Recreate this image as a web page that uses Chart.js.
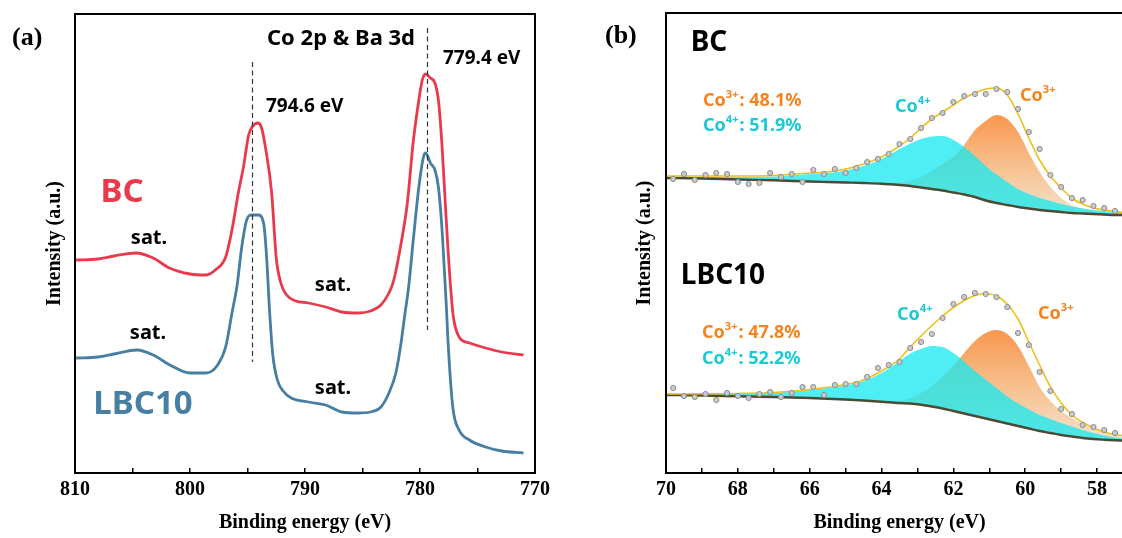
<!DOCTYPE html>
<html>
<head>
<meta charset="utf-8">
<title>Co 2p XPS - BC / LBC10</title>
<script src="https://cdn.jsdelivr.net/npm/chart.js@4.4.1/dist/chart.umd.min.js"></script>
<style>
  html, body { margin: 0; padding: 0; background: #fff; overflow: hidden; }
  body { width: 1122px; height: 538px; position: relative; }
  canvas { position: absolute; top: 0; }
  #chartA { left: 0; }
  #chartB { left: 600px; }
</style>
</head>
<body>
<canvas id="chartA" width="560" height="538"></canvas>
<canvas id="chartB" width="545" height="538"></canvas>
<script>
// (a) Co 2p & Ba 3d survey, binding energy in eV, intensity in arbitrary units
const energyBC = [809.9, 808.0, 806.6, 804.7, 803.2, 801.8, 800.0, 798.6, 797.8, 796.9,
  796.35, 795.8, 795.35, 794.9, 794.6, 794.1, 793.8, 793.4, 792.9, 792.5,
  792.1, 791.6, 790.8, 789.7, 788.2, 786.8, 785.4, 784.3, 783.4, 782.7,
  782.3, 781.7, 781.1, 780.6, 780.1, 779.8, 779.5, 779.1, 778.7, 778.4,
  778.1, 777.85, 777.6, 777.3, 777.1, 776.6, 775.7, 774.3, 772.9, 771.0];
const intensityBC = [213, 214, 217, 220, 215, 205, 199, 198, 203, 216,
  243, 280, 306, 338, 346, 350, 346, 323, 280, 215,
  190, 178, 172, 170, 166, 161, 160, 162, 168, 180,
  192, 226, 270, 330, 373, 393, 399, 395, 390, 373,
  330, 280, 230, 180, 156, 136, 130, 125, 121, 118];

const energyLBC = [809.9, 808.0, 806.6, 804.6, 803.2, 801.75, 800.0, 798.6, 797.6, 796.9,
  796.35, 795.9, 795.5, 795.07, 794.64, 794.07, 793.6, 793.36, 793.07, 792.8,
  792.4, 791.9, 791.2, 789.7, 788.2, 786.8, 785.4, 784.3, 783.4, 782.7,
  782.1, 781.7, 781.3, 781.0, 780.56, 780.1, 779.7, 779.5, 779.1, 778.7,
  778.4, 778.1, 777.85, 777.7, 777.58, 777.15, 776.6, 775.7, 774.3, 772.9, 771.0];
const intensityLBC = [115, 116, 119, 123, 118, 108, 100, 100, 108, 126,
  160, 188, 226, 253, 258, 258, 250, 220, 160, 118,
  93, 82, 75, 71, 68, 61, 60, 61, 66, 80,
  100, 126, 160, 185, 236, 286, 316, 320, 310, 303,
  286, 246, 196, 165, 135, 66, 43, 33, 26, 22, 20];

const peakPositions = [794.6, 779.4];
const peakLabels = ['794.6 eV', '779.4 eV'];

// (b) fitted Co 3p region
const fitEnergy = [70, 69, 68, 67, 66, 65.5, 65, 64.5, 64, 63.5, 63.2, 62.9, 62.6, 62.3, 62, 61.7,
  61.4, 61.1, 60.8, 60.5, 60.2, 59.9, 59.6, 59.3, 59, 58.7, 58.4, 58.1, 57.8, 57.5, 57.2, 57];

const bcBackground = [295, 294.5, 293.5, 292.7, 291.5, 291, 290.5, 290, 289.3, 288, 287, 285.5, 284, 282.5, 280.5, 278.5,
  276, 272.5, 270, 268, 266, 264.5, 263, 262, 261, 260, 259.5, 259, 258.5, 258, 258, 258];
const bcCo4 = [296.5, 296, 296, 296.5, 299, 300, 302.5, 307, 314, 324, 329.5, 334, 336.5, 337, 333, 326,
  317, 307, 298.5, 291, 284, 279, 275, 272, 269, 266.5, 264.5, 263, 262, 261, 260.5, 260];
const bcCo3 = [295, 294.5, 293.5, 292.7, 291.5, 291, 290.6, 290.2, 289.8, 290, 292.5, 296, 302, 309, 316, 328,
  343, 352, 358, 354, 341, 320, 301, 286, 275, 268, 264.5, 262, 260.5, 259.5, 259, 258.5];
const bcEnvelope = [297, 297, 297, 297.5, 300, 301, 304, 309, 316, 327, 335, 345, 354, 361, 368, 375,
  380, 384, 385, 378, 359, 335, 313, 297, 285, 275, 269, 265, 263, 261.5, 260.5, 260];

const lbcBackground = [78, 77.5, 76.8, 76, 75, 74.3, 73.5, 72.5, 71.3, 70, 69.5, 68.2, 66.5, 64.5, 62, 59.5,
  57, 54.5, 52, 49.5, 47, 44.5, 42, 40, 38, 36.5, 35, 34, 33.3, 32.7, 32.3, 32];
const lbcCo4 = [78.8, 79, 79.2, 80.2, 83, 85, 87.5, 92, 100, 112, 119.5, 124, 127, 126, 120, 111.5,
  102, 93.5, 85, 76.5, 69.5, 63.5, 58, 54, 50, 46.5, 43, 40, 37.5, 35.5, 34, 33.5];
const lbcCo3 = [78, 77.5, 76.8, 76, 75, 74.3, 73.6, 72.7, 71.7, 72, 75, 80, 87, 96, 107, 120,
  132, 140, 143, 139, 127, 107, 86, 72, 62, 55, 49, 44, 40.5, 37.5, 35.5, 34.5];
const lbcEnvelope = [79, 79.2, 79.5, 80.5, 83.5, 85.7, 88.5, 93, 102, 114, 126, 137, 147.5, 157, 165.5, 172.5,
  177.5, 179.5, 177, 169, 154, 131, 108, 86.3, 70, 58, 50.5, 45, 41, 38.5, 37, 36.5];

const pointEnergy = [69.8, 69.5, 69.2, 68.9, 68.6, 68.3, 68.0, 67.7, 67.4, 67.1, 66.8, 66.5, 66.2, 65.9,
  65.6, 65.3, 65.0, 64.7, 64.4, 64.1, 63.8, 63.5, 63.2, 62.9, 62.6, 62.3, 62.0, 61.7,
  61.4, 61.1, 60.8, 60.5, 60.2, 59.9, 59.6, 59.3, 59.0, 58.7, 58.4, 58.1, 57.8, 57.5];
const bcPoints = [294, 299, 293, 298, 300, 299, 291, 289, 290, 300, 296, 299, 291, 303,
  299, 304, 300, 305, 311, 314, 319, 329, 334, 345, 355, 360, 371, 377,
  379, 379, 384, 381, 364, 341, 324, 298, 286, 275, 273, 267, 265, 262];
const lbcPoints = [85, 77, 76, 79, 73, 80, 77, 75, 79, 81, 76, 80, 86, 86,
  78, 88, 89, 89, 96, 105, 108, 111, 125, 131, 139, 155, 169, 176,
  180, 179, 176, 166, 140, 128, 101, 82, 64, 59, 48, 46, 43, 40];

const co3Share = [48.1, 47.8];
const co4Share = [51.9, 52.2];

const RED = '#e83a4c';
const BLUE = '#467fa2';
const ORANGE = '#f5841f';
const CYAN = '#1cc9d7';
const SANS = '"Noto Sans", "Open Sans", sans-serif';
const SERIF = '"Liberation Serif", "Times New Roman", serif';

const xy = (xs, ys) => xs.map((x, i) => ({ x, y: ys[i] }));

// full box round the plot area
const frame = {
  id: 'frame',
  afterDraw(chart) {
    const { ctx, chartArea: a } = chart;
    ctx.save();
    ctx.strokeStyle = '#000';
    ctx.lineWidth = 2;
    ctx.strokeRect(a.left, a.top, a.right - a.left, a.bottom - a.top);
    ctx.restore();
  }
};

function drawRich(ctx, it) {
  let cx = it.x;
  ctx.fillStyle = it.color;
  ctx.textAlign = 'left';
  it.parts.forEach(([t, sup]) => {
    const s = sup ? it.size * 0.62 : it.size;
    ctx.font = `bold ${s}px ${SANS}`;
    ctx.fillText(t, cx, sup ? it.y - it.size * 0.32 : it.y);
    cx += ctx.measureText(t).width + (sup ? 1 : 0);
  });
}

function textLayer(id, items) {
  return {
    id,
    afterDraw(chart) {
      const ctx = chart.ctx;
      ctx.save();
      ctx.textBaseline = 'middle';
      items.forEach(it => {
        if (it.parts) { drawRich(ctx, it); return; }
        ctx.font = it.font;
        ctx.fillStyle = it.color || '#000';
        ctx.textAlign = it.align || 'left';
        ctx.fillText(it.text, it.x, it.y);
      });
      ctx.restore();
    }
  };
}

// dashed markers at the two main peaks, span given in intensity units
const markerSpan = [[111, 411], [143, 445]];
const peakMarkers = {
  id: 'peakMarkers',
  afterDatasetsDraw(chart) {
    const { ctx, scales: { x, y } } = chart;
    ctx.save();
    ctx.setLineDash([5, 3.5]);
    ctx.lineWidth = 1.2;
    ctx.strokeStyle = '#333';
    peakPositions.forEach((e, i) => {
      const px = Math.round(x.getPixelForValue(e)) + 0.5;
      ctx.beginPath();
      ctx.moveTo(px, y.getPixelForValue(markerSpan[i][1]));
      ctx.lineTo(px, y.getPixelForValue(markerSpan[i][0]));
      ctx.stroke();
    });
    ctx.restore();
  }
};

function xAxis(min, max, step, every, titleText) {
  return {
    type: 'linear', reverse: true, min, max,
    afterFit: s => { s.height = 65; },
    ticks: {
      stepSize: step, autoSkip: false, maxRotation: 0, padding: 10, color: '#000',
      font: { family: SERIF, weight: 'bold', size: 20 },
      callback: v => (Math.round(v) % every === 0 ? v : '')
    },
    grid: { drawOnChartArea: false, drawTicks: true, tickLength: -5, color: '#000', lineWidth: 1.5 },
    border: { display: true, color: '#000', width: 2 },
    title: { display: true, text: titleText, color: '#000', padding: { bottom: 3 },
      font: { family: SERIF, weight: 'bold', size: 20 } }
  };
}

function yAxis(max, width, titlePad) {
  return {
    min: 0, max,
    afterFit: s => { s.width = width; },
    ticks: { display: false },
    grid: { display: false },
    border: { display: true, color: '#000', width: 2 },
    title: { display: true, text: 'Intensity (a.u.)', color: '#000', padding: { top: titlePad },
      font: { family: SERIF, weight: 'bold', size: 20 } }
  };
}

const lineStyle = { pointRadius: 0, pointHoverRadius: 0, fill: false, cubicInterpolationMode: 'monotone' };

// ---------- (a) ----------
new Chart(document.getElementById('chartA'), {
  type: 'line',
  data: {
    datasets: [
      { label: 'BC', data: xy(energyBC, intensityBC), borderColor: RED, borderWidth: 2.8, ...lineStyle },
      { label: 'LBC10', data: xy(energyLBC, intensityLBC), borderColor: BLUE, borderWidth: 2.8, ...lineStyle }
    ]
  },
  options: {
    responsive: false, animation: false, events: [],
    layout: { padding: { top: 14, right: 16, left: 0, bottom: 0 } },
    plugins: { legend: { display: false }, tooltip: { enabled: false } },
    scales: { x: xAxis(770, 810, 5, 10, 'Binding energy (eV)'), y: yAxis(459, 75, 43) }
  },
  plugins: [frame, peakMarkers, textLayer('notesA', [
    { text: '(a)', x: 12, y: 38, font: `bold 26px ${SERIF}` },
    { text: 'Co 2p & Ba 3d', x: 341, y: 39, font: `bold 22px ${SANS}`, align: 'center' },
    { text: peakLabels[1], x: 443, y: 59, font: `bold 19px ${SANS}` },
    { text: peakLabels[0], x: 266, y: 107, font: `bold 19px ${SANS}` },
    { text: 'BC', x: 122, y: 193, font: `bold 33px ${SANS}`, color: RED, align: 'center' },
    { text: 'LBC10', x: 143, y: 405, font: `bold 33px ${SANS}`, color: BLUE, align: 'center' },
    { text: 'sat.', x: 149, y: 238, font: `bold 20px ${SANS}`, align: 'center' },
    { text: 'sat.', x: 333, y: 285, font: `bold 20px ${SANS}`, align: 'center' },
    { text: 'sat.', x: 148, y: 333, font: `bold 20px ${SANS}`, align: 'center' },
    { text: 'sat.', x: 333, y: 388, font: `bold 20px ${SANS}`, align: 'center' }
  ])]
});

// ---------- (b) ----------
function orangeFill(peak, base) {
  return ctx => {
    const { chartArea, scales } = ctx.chart;
    if (!chartArea) return 'rgba(248,170,110,0.9)';
    const y0 = scales.y.getPixelForValue(peak);
    const y1 = scales.y.getPixelForValue(base);
    const g = ctx.chart.ctx.createLinearGradient(0, y0, 0, y1);
    g.addColorStop(0, '#f9974f');
    g.addColorStop(0.55, '#f7c393');
    g.addColorStop(1, '#f5e3cc');
    return g;
  };
}

function fitSet(bg, co3, co4, env, pts, baseIndex) {
  return [
    { data: xy(fitEnergy, bg), borderColor: '#4b4a35', borderWidth: 2.4, order: 2, ...lineStyle },
    { data: xy(fitEnergy, co3), borderWidth: 0, order: 4, ...lineStyle, fill: baseIndex,
      backgroundColor: orangeFill(Math.max(...co3), Math.min(...bg)) },
    { data: xy(fitEnergy, co4), borderWidth: 0, order: 3, ...lineStyle, fill: baseIndex,
      backgroundColor: 'rgba(20,232,240,0.75)' },
    { data: xy(fitEnergy, env), borderColor: '#f0bf1a', borderWidth: 1.6, order: 1, ...lineStyle },
    { data: xy(pointEnergy, pts), showLine: false, order: 0, pointRadius: 2.6, pointHoverRadius: 0,
      pointBackgroundColor: '#cacaca', pointBorderColor: '#8c8c8c', pointBorderWidth: 1 }
  ];
}

new Chart(document.getElementById('chartB'), {
  type: 'line',
  data: {
    datasets: [
      ...fitSet(bcBackground, bcCo3, bcCo4, bcEnvelope, bcPoints, 0),
      ...fitSet(lbcBackground, lbcCo3, lbcCo4, lbcEnvelope, lbcPoints, 5)
    ]
  },
  options: {
    responsive: false, animation: false, events: [],
    layout: { padding: { top: 13, right: 12, left: 0, bottom: 0 } },
    plugins: { legend: { display: false }, tooltip: { enabled: false } },
    scales: { x: xAxis(57, 70, 1, 2, 'Binding energy (eV)'), y: yAxis(460, 66, 33) }
  },
  plugins: [frame, textLayer('notesB', [
    { text: '(b)', x: 5, y: 36, font: `bold 26px ${SERIF}` },
    { text: 'BC', x: 109, y: 43, font: `bold 28px ${SANS}`, align: 'center' },
    { text: 'LBC10', x: 123, y: 276, font: `bold 28px ${SANS}`, align: 'center' },
    { parts: [['Co', 0], ['3+', 1], [': ' + co3Share[0] + '%', 0]], x: 103, y: 101, size: 18, color: ORANGE },
    { parts: [['Co', 0], ['4+', 1], [': ' + co4Share[0] + '%', 0]], x: 103, y: 126, size: 18, color: CYAN },
    { parts: [['Co', 0], ['3+', 1], [': ' + co3Share[1] + '%', 0]], x: 102, y: 333, size: 18, color: ORANGE },
    { parts: [['Co', 0], ['4+', 1], [': ' + co4Share[1] + '%', 0]], x: 102, y: 359, size: 18, color: CYAN },
    { parts: [['Co', 0], ['4+', 1]], x: 295, y: 107, size: 18, color: CYAN },
    { parts: [['Co', 0], ['3+', 1]], x: 420, y: 96, size: 18, color: ORANGE },
    { parts: [['Co', 0], ['4+', 1]], x: 297, y: 315, size: 18, color: CYAN },
    { parts: [['Co', 0], ['3+', 1]], x: 438, y: 314, size: 18, color: ORANGE }
  ])]
});
</script>
</body>
</html>
